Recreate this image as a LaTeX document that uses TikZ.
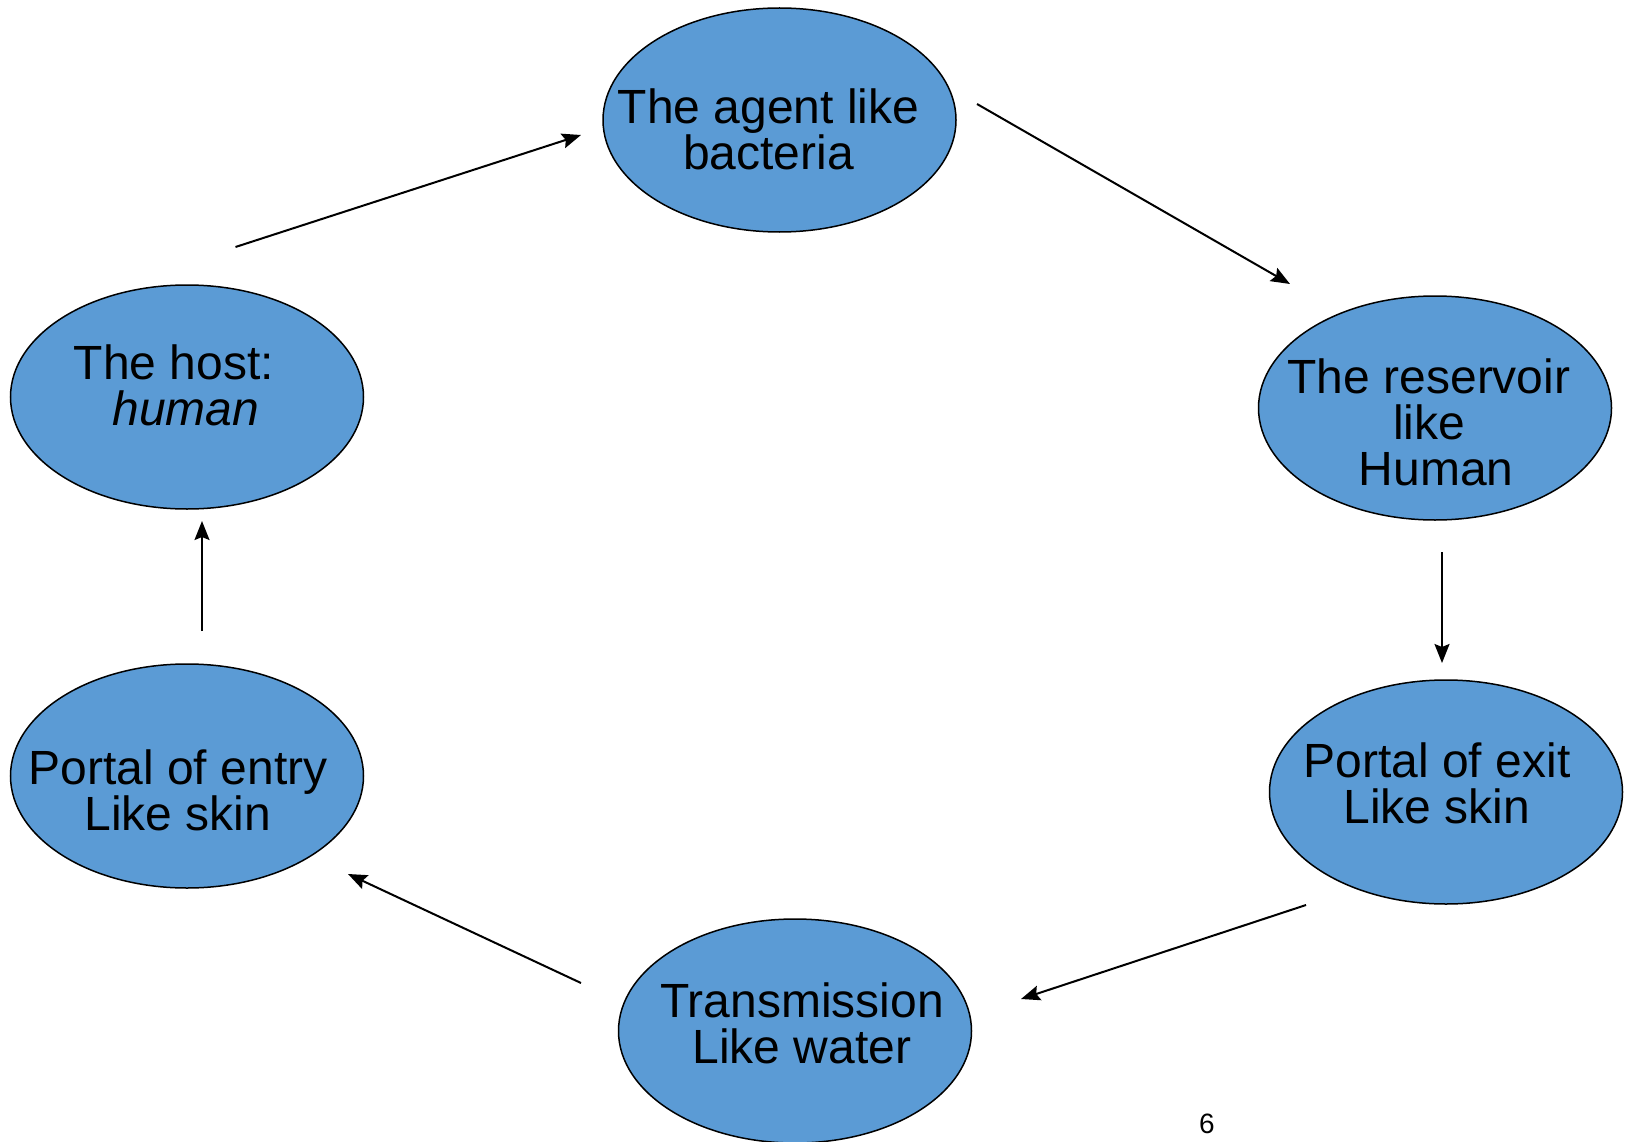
\documentclass[tikz,border=0pt]{standalone}
\usepackage{fontspec}
\setmainfont{Liberation Sans}
\usetikzlibrary{shapes.geometric,arrows.meta}
\definecolor{ellblue}{HTML}{5B9BD5}
\tikzset{
  ell/.style={ellipse, draw=black, line width=1.5pt, fill=ellblue,
    minimum width=353pt, minimum height=224pt, inner sep=0pt},
  txt/.style={align=center, inner sep=0pt, font=\fontsize{48}{46}\selectfont},
  conn/.style={line width=2pt, -{Stealth[length=19pt,width=15pt,inset=3pt]}}
}
\begin{document}
\begin{tikzpicture}[x=1pt,y=-1pt]
\useasboundingbox (0,0) rectangle (1627,1142);
\node[ell] (agent) at (779.5,120) {};
\node[ell] (reservoir) at (1435,408) {};
\node[ell] (exit) at (1446,792) {};
\node[ell] (trans) at (795,1031) {};
\node[ell] (entry) at (187,776) {};
\node[ell] (host) at (187,397) {};
\node[txt] (agentT) at ([shift={(-11,9)}]agent.center) {The agent like\\bacteria};
\node[txt] (reservoirT) at ([shift={(-6,14)}]reservoir.center) {The reservoir\\like\\\hspace{0.3em}Human};
\node[txt] (exitT) at ([shift={(-9,-9)}]exit.center) {Portal of exit\\Like skin};
\node[txt] (transT) at ([shift={(7,-8)}]trans.center) {Transmission\\Like water};
\node[txt] (entryT) at ([shift={(-9,14)}]entry.center) {Portal of entry\\Like skin};
\node[txt] (hostT) at ([shift={(-13,-12)}]host.center) {The host:\\\hspace{0.5em}\textit{human}};
\node[font=\fontsize{28}{28}\selectfont, inner sep=0pt] (num) at (1207,1124) {6};
\coordinate (a1) at (235.5,247); \coordinate (a2) at (581,135);
\coordinate (b1) at (977,104); \coordinate (b2) at (1290,284);
\coordinate (c1) at (1442,552); \coordinate (c2) at (1442,663);
\coordinate (d1) at (1306,905); \coordinate (d2) at (1021,999);
\coordinate (e1) at (581,983); \coordinate (e2) at (348,874);
\coordinate (f1) at (202,631); \coordinate (f2) at (202,521);
\draw[conn] (a1) -- (a2);
\draw[conn] (b1) -- (b2);
\draw[conn] (c1) -- (c2);
\draw[conn] (d1) -- (d2);
\draw[conn] (e1) -- (e2);
\draw[conn] (f1) -- (f2);
\end{tikzpicture}
\end{document}
